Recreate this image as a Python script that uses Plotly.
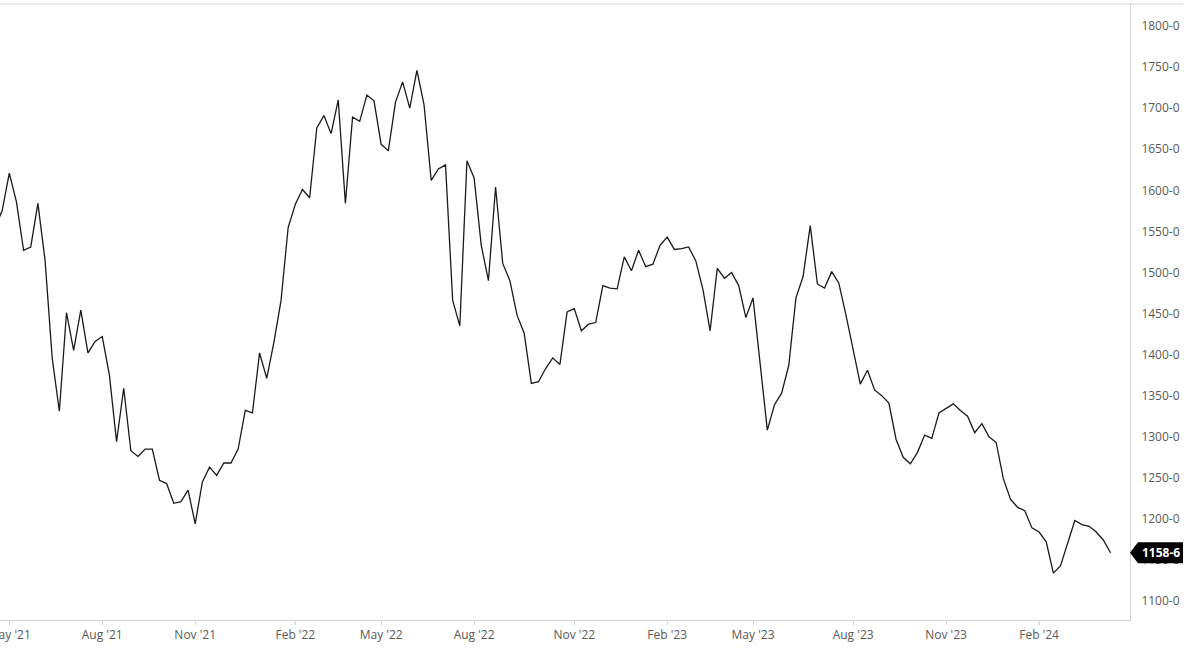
import pandas as pd
import plotly.graph_objects as go

# Weekly closes (Mondays), starting 2021-04-19
start_date = "2021-04-19"
prices = [
    1555, 1575,
    1621, 1586, 1527, 1531, 1584, 1515, 1396, 1331, 1451, 1405,
    1454, 1402, 1416, 1422, 1375, 1294, 1359, 1283, 1276, 1285,
    1285, 1247, 1243, 1219, 1221, 1235, 1194, 1245, 1263, 1253,
    1268, 1268, 1285, 1332, 1329, 1402, 1371, 1415, 1466, 1555,
    1583, 1601, 1591, 1676, 1691, 1669, 1710, 1584, 1689, 1684,
    1716, 1709, 1656, 1648, 1707, 1732, 1700, 1746, 1704, 1612,
    1626, 1631, 1466, 1435, 1636, 1615, 1533, 1490, 1604, 1511,
    1490, 1448, 1426, 1365, 1367, 1383, 1396, 1388, 1452, 1456,
    1429, 1437, 1439, 1484, 1481, 1480, 1519, 1502, 1527, 1507,
    1510, 1533, 1543, 1528, 1529, 1531, 1514, 1479, 1429, 1505,
    1493, 1500, 1484, 1445, 1469, 1389, 1308, 1339, 1353, 1387,
    1469, 1495, 1557, 1486, 1481, 1501, 1487, 1448, 1404, 1364,
    1381, 1357, 1350, 1341, 1297, 1275, 1267, 1281, 1302, 1298,
    1329, 1335, 1340, 1332, 1325, 1305, 1316, 1300, 1293, 1249,
    1224, 1214, 1210, 1189, 1184, 1172, 1134, 1143, 1170, 1198,
    1193, 1191, 1184, 1174, 1158.75,
]
last_label = "1158-6"

x_tick_vals = ["2021-05-03", "2021-08-02", "2021-11-01", "2022-02-07", "2022-05-02",
               "2022-08-01", "2022-11-07", "2023-02-06", "2023-05-01", "2023-08-07",
               "2023-11-06", "2024-02-05"]
x_tick_text = ["May '21", "Aug '21", "Nov '21", "Feb '22", "May '22", "Aug '22",
               "Nov '22", "Feb '23", "May '23", "Aug '23", "Nov '23", "Feb '24"]
y_tick_vals = [1100, 1150, 1200, 1250, 1300, 1350, 1400, 1450, 1500, 1550,
               1600, 1650, 1700, 1750, 1800]
y_tick_text = ["1100-0", "1150-0", "1200-0", "1250-0", "1300-0", "1350-0", "1400-0",
               "1450-0", "1500-0", "1550-0", "1600-0", "1650-0", "1700-0", "1750-0",
               "1800-0"]

dates = pd.date_range(start_date, periods=len(prices), freq="W-MON")

fig = go.Figure()
fig.add_trace(go.Scatter(
    x=dates, y=prices, mode="lines",
    line=dict(color="#1a1a1a", width=1.3),
    hoverinfo="x+y", showlegend=False,
))

grid = "#d4d4d4"
fig.update_layout(
    width=1200, height=653,
    margin=dict(l=0, r=70, t=4, b=33, autoexpand=False),
    paper_bgcolor="white", plot_bgcolor="white",
    font=dict(family="Open Sans, sans-serif", size=12, color="#5a5a5a"),
    xaxis=dict(
        type="date", automargin=False,
        range=["2021-04-23 21:50", "2024-05-04"],
        tickvals=x_tick_vals, ticktext=x_tick_text,
        ticks="outside", ticklen=4, tickcolor=grid,
        showline=True, linecolor=grid, linewidth=1,
        showgrid=False, zeroline=False,
        ticklabeloverflow="allow",
        tickfont=dict(size=12, color="#5a5a5a"),
    ),
    yaxis=dict(
        side="right", automargin=False,
        range=[1076.9, 1826.8],
        tickvals=y_tick_vals, ticktext=y_tick_text,
        ticks="outside", ticklen=8, tickcolor="rgba(0,0,0,0)",
        showline=True, linecolor=grid, linewidth=1,
        showgrid=False, zeroline=False,
        tickfont=dict(size=12, color="#5a5a5a"),
    ),
)

# top border extending across the axis label area
fig.add_shape(type="line", xref="paper", yref="paper",
              x0=0, x1=1183 / 1130, y0=1, y1=1,
              line=dict(color=grid, width=1), layer="above")

# last value flag
fig.add_shape(type="path", xref="paper", yref="y",
              xsizemode="pixel", ysizemode="pixel",
              xanchor=1, yanchor=prices[-1],
              path="M 0,0 L 8,10.5 L 53,10.5 L 53,-10.5 L 8,-10.5 Z",
              fillcolor="black", line=dict(width=0), layer="above")
fig.add_annotation(xref="paper", yref="y", x=1, y=prices[-1],
                   xanchor="center", yanchor="middle", xshift=31, yshift=0,
                   text="<b>" + last_label + "</b>", showarrow=False,
                   font=dict(family="Open Sans, sans-serif", size=12, color="white"))

fig.write_html("out.html",
               config={"displayModeBar": False},
               post_script="document.body.style.margin='0px';document.body.style.overflow='hidden';")
